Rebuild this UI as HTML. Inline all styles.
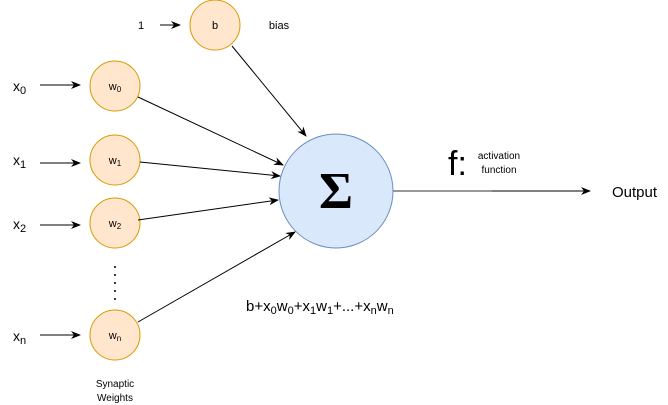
<!DOCTYPE html>
<html><head><meta charset="utf-8"><style>
body{margin:0;background:#fff}
svg{display:block;font-family:"Liberation Sans",sans-serif}
</style></head><body>
<svg width="668" height="405" viewBox="0 0 668 405">
<defs><marker id="ah" markerWidth="10" markerHeight="8" refX="9" refY="4" orient="auto" markerUnits="userSpaceOnUse"><path d="M0,0 L10,4 L0,8 L3,4 Z" fill="#000"/></marker></defs>
<g fill="#ffe6cc" stroke="#d79b00" stroke-width="1">
<circle cx="215" cy="25" r="25"/>
<circle cx="115" cy="86" r="25"/>
<circle cx="115" cy="160" r="25"/>
<circle cx="115" cy="223" r="25"/>
<circle cx="115" cy="335" r="25"/>
</g>
<circle cx="336" cy="191" r="57" fill="#dae8fc" stroke="#6c8ebf"/>
<g stroke="#000" stroke-width="1" fill="none" marker-end="url(#ah)">
<line x1="160" y1="25" x2="180" y2="25"/>
<line x1="40" y1="85" x2="80" y2="85"/>
<line x1="40" y1="163" x2="80" y2="163"/>
<line x1="40" y1="225" x2="80" y2="225"/>
<line x1="40" y1="335" x2="80" y2="335"/>
<line x1="232" y1="46" x2="306" y2="136"/>
<line x1="138" y1="97" x2="283" y2="165"/>
<line x1="140" y1="162" x2="280" y2="176"/>
<line x1="138" y1="220" x2="278" y2="200"/>
<line x1="138" y1="322" x2="295" y2="232"/>
<line x1="393" y1="191" x2="590" y2="191"/>
</g>
<line x1="393" y1="191" x2="492" y2="191" stroke="#777" stroke-width="1.5"/>
<g fill="#000">
<circle cx="115" cy="267" r="1"/><circle cx="115" cy="275" r="1"/><circle cx="115" cy="283" r="1"/><circle cx="115" cy="291" r="1"/><circle cx="115" cy="299" r="1"/>
</g>
<g font-size="11" text-anchor="middle" fill="#000">
<text x="141" y="29">1</text>
<text x="215" y="29">b</text>
<text x="279" y="29">bias</text>
<text x="115" y="90">w<tspan font-size="8" dy="2">0</tspan></text>
<text x="115" y="164">w<tspan font-size="8" dy="2">1</tspan></text>
<text x="115" y="227">w<tspan font-size="8" dy="2">2</tspan></text>
<text x="115" y="339">w<tspan font-size="8" dy="2">n</tspan></text>
<text x="115" y="387" font-size="10">Synaptic</text>
<text x="115" y="401" font-size="10">Weights</text>
<text x="499" y="159" font-size="10">activation</text>
<text x="499" y="173" font-size="10">function</text>
</g>
<g font-size="14" fill="#000">
<text x="13" y="91">x<tspan font-size="11" dy="3">0</tspan></text>
<text x="13" y="165">x<tspan font-size="11" dy="3">1</tspan></text>
<text x="13" y="229">x<tspan font-size="11" dy="3">2</tspan></text>
<text x="13" y="341">x<tspan font-size="11" dy="3">n</tspan></text>
<text x="612" y="197" font-size="15">Output</text>
<text x="246" y="311" font-size="15">b+x<tspan font-size="11" dy="3">0</tspan><tspan dy="-3">w</tspan><tspan font-size="11" dy="3">0</tspan><tspan dy="-3">+x</tspan><tspan font-size="11" dy="3">1</tspan><tspan dy="-3">w</tspan><tspan font-size="11" dy="3">1</tspan><tspan dy="-3">+...+x</tspan><tspan font-size="11" dy="3">n</tspan><tspan dy="-3">w</tspan><tspan font-size="11" dy="3">n</tspan></text>
<text x="448" y="175" font-size="34">f:</text>
</g>
<text x="336" y="208" font-size="52" font-weight="bold" text-anchor="middle" font-family="Liberation Serif,serif">Σ</text>
</svg>
</body></html>
